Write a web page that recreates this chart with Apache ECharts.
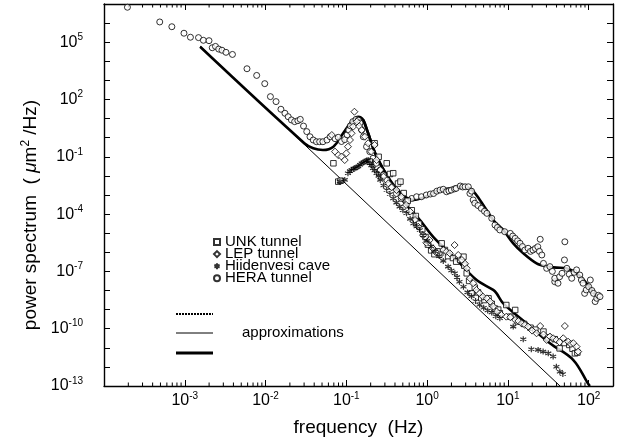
<!DOCTYPE html>
<html><head><meta charset="utf-8">
<script src="https://cdn.jsdelivr.net/npm/echarts@6/dist/echarts.min.js"></script>
<style>html,body{margin:0;padding:0;background:#fff}#c{width:620px;height:445px}</style>
</head><body><div id="c"></div>
<script>
// Values, in decades: [log10(frequency / Hz), log10(power / (µm²/Hz))]
const unkTunnel = [[-1.16,-1.34],[-1.10,-2.30],[-1.07,-2.25],[-0.71,-1.25],[-0.65,-0.29],[-0.60,-1.0],[-0.50,-1.34],[-0.46,-1.90],[-0.42,-1.86],[-0.36,-2.40],[-0.33,-2.30],[-0.29,-2.90],[-0.24,-3.30],[-0.19,-3.80],[-0.14,-4.10],[-0.10,-4.50],[-0.06,-4.80],[-0.02,-5.20],[0.01,-5.60],[0.05,-5.90],[0.09,-6.10],[0.13,-5.95],[0.18,-5.53],[0.22,-5.88],[0.26,-6.20],[0.32,-6.30],[0.36,-6.49],[0.41,-6.40],[0.45,-6.23],[0.46,-6.70],[0.49,-7.10],[0.52,-7.50],[0.55,-8.15],[0.59,-7.85],[0.63,-8.10],[0.67,-8.40],[0.71,-8.50],[0.76,-8.41],[0.80,-8.70],[0.84,-8.95],[0.88,-9.00],[0.90,-9.19],[0.98,-8.76],[1.03,-9.37],[1.09,-9.02],[1.12,-9.62],[1.20,-9.75],[1.28,-9.95],[1.34,-10.05],[1.44,-10.15],[1.50,-10.45],[1.58,-10.55],[1.64,-11.03],[1.70,-10.75],[1.76,-10.85],[1.80,-11.05],[1.83,-11.29],[1.86,-11.25]];
const lepTunnel = [[-1.18,0.14],[-1.14,-0.73],[-1.10,-0.91],[-1.06,-0.99],[-1.02,-1.17],[-1.00,-0.82],[-0.98,-0.47],[-0.955,-0.12],[-0.935,0.23],[-0.915,0.58],[-0.90,1.36],[-0.87,0.84],[-0.84,0.60],[-0.81,0.40],[-0.77,0.05],[-0.73,-0.29],[-0.69,-0.73],[-0.65,-0.38],[-0.625,-1.17],[-0.58,-1.69],[-0.54,-2.04],[-0.48,-2.39],[-0.44,-2.60],[-0.38,-2.74],[-0.32,-3.09],[-0.26,-3.52],[-0.21,-3.87],[-0.15,-4.31],[-0.11,-4.66],[-0.05,-5.10],[-0.01,-5.50],[0.03,-5.36],[0.07,-5.79],[0.11,-6.00],[0.16,-6.14],[0.20,-5.88],[0.24,-5.97],[0.28,-6.05],[0.34,-5.62],[0.385,-6.14],[0.43,-6.40],[0.47,-6.60],[0.49,-6.84],[0.53,-7.36],[0.57,-7.62],[0.61,-7.97],[0.65,-8.15],[0.69,-8.32],[0.74,-8.41],[0.78,-8.58],[0.82,-8.84],[0.86,-9.10],[0.92,-9.28],[0.98,-9.37],[1.03,-9.40],[1.09,-9.54],[1.13,-9.60],[1.17,-9.72],[1.21,-9.80],[1.25,-9.89],[1.30,-10.10],[1.355,-10.24],[1.40,-9.86],[1.44,-10.30],[1.48,-10.59],[1.52,-10.41],[1.56,-10.50],[1.60,-10.59],[1.64,-10.70],[1.685,-10.50],[1.705,-9.86],[1.745,-10.68],[1.78,-10.80],[1.81,-10.76],[1.85,-10.94],[1.87,-11.20]];
const hiidenvesiCave = [[-1.08,-2.30],[-1.02,-2.21],[-0.98,-1.86],[-0.955,-1.75],[-0.935,-1.69],[-0.91,-1.62],[-0.894,-1.60],[-0.87,-1.55],[-0.853,-1.51],[-0.83,-1.42],[-0.81,-1.34],[-0.79,-1.30],[-0.77,-1.25],[-0.75,-1.20],[-0.73,-1.17],[-0.71,-1.34],[-0.69,-1.45],[-0.67,-1.60],[-0.65,-1.72],[-0.625,-1.86],[-0.60,-2.00],[-0.58,-2.21],[-0.54,-2.50],[-0.50,-2.74],[-0.46,-2.95],[-0.42,-3.18],[-0.38,-3.40],[-0.34,-3.61],[-0.30,-3.80],[-0.255,-3.96],[-0.21,-4.25],[-0.17,-4.49],[-0.13,-4.65],[-0.09,-4.83],[-0.05,-5.10],[0.0,-5.40],[0.05,-5.70],[0.10,-5.95],[0.15,-6.20],[0.20,-6.45],[0.26,-6.75],[0.30,-6.95],[0.343,-7.10],[0.37,-7.30],[0.40,-7.54],[0.45,-7.80],[0.50,-8.10],[0.55,-8.30],[0.60,-8.55],[0.65,-8.75],[0.70,-8.90],[0.75,-9.05],[0.80,-9.15],[0.85,-9.35],[0.90,-9.45],[1.066,-9.89],[1.19,-10.55],[1.29,-11.08],[1.374,-11.11],[1.436,-11.20],[1.50,-11.29],[1.56,-11.46],[1.60,-11.99],[1.643,-12.25],[1.68,-12.37]];
const heraTunnel = [[-3.71,6.83],[-3.31,6.06],[-3.16,5.81],[-3.01,5.47],[-2.93,5.26],[-2.83,5.24],[-2.77,5.10],[-2.70,5.08],[-2.66,4.71],[-2.62,4.78],[-2.58,4.64],[-2.54,4.58],[-2.49,4.47],[-2.41,4.36],[-2.23,3.61],[-2.11,3.26],[-2.01,2.83],[-1.94,2.15],[-1.87,1.89],[-1.81,1.49],[-1.76,1.28],[-1.72,1.10],[-1.68,0.93],[-1.64,0.84],[-1.60,0.89],[-1.57,0.96],[-1.53,0.61],[-1.49,0.32],[-1.45,0.05],[-1.41,-0.12],[-1.37,-0.21],[-1.33,-0.21],[-1.29,-0.21],[-1.24,-0.12],[-1.20,0.05],[-1.14,-0.05],[-1.10,0.02],[-1.06,-0.20],[-1.02,-0.10],[-0.99,0.15],[-0.97,0.40],[-0.95,0.62],[-0.92,0.84],[-0.88,0.96],[-0.85,0.92],[-0.83,0.77],[-0.81,0.40],[-0.79,0.05],[-0.75,-0.47],[-0.71,-0.73],[-0.67,-1.08],[-0.63,-1.34],[-0.58,-1.69],[-0.54,-1.95],[-0.50,-2.21],[-0.44,-2.57],[-0.38,-2.92],[-0.32,-3.18],[-0.26,-3.35],[-0.19,-3.18],[-0.13,-3.09],[-0.07,-3.09],[-0.01,-3.00],[0.04,-2.95],[0.08,-2.92],[0.12,-2.80],[0.16,-2.74],[0.20,-2.70],[0.24,-2.83],[0.27,-2.78],[0.30,-2.74],[0.34,-2.68],[0.36,-2.65],[0.41,-2.53],[0.44,-2.58],[0.47,-2.57],[0.51,-2.57],[0.53,-2.92],[0.55,-2.80],[0.57,-3.26],[0.59,-3.43],[0.63,-3.55],[0.67,-3.70],[0.71,-3.85],[0.74,-3.96],[0.80,-4.22],[0.84,-4.57],[0.87,-4.70],[0.90,-4.83],[0.96,-4.92],[1.03,-5.01],[1.06,-5.15],[1.09,-5.27],[1.12,-5.40],[1.15,-5.53],[1.18,-5.70],[1.21,-5.88],[1.25,-5.79],[1.28,-5.95],[1.31,-5.88],[1.34,-5.80],[1.37,-5.71],[1.40,-5.32],[1.39,-5.95],[1.42,-6.14],[1.44,-6.58],[1.48,-6.84],[1.52,-6.75],[1.55,-7.00],[1.58,-7.54],[1.58,-7.36],[1.62,-7.62],[1.64,-7.28],[1.67,-7.10],[1.70,-6.40],[1.705,-5.45],[1.73,-6.84],[1.76,-7.15],[1.79,-7.36],[1.82,-7.05],[1.85,-6.92],[1.89,-7.19],[1.91,-7.45],[1.93,-7.62],[1.95,-8.15],[1.97,-7.97],[2.00,-7.80],[2.02,-7.45],[2.04,-8.00],[2.06,-8.15],[2.08,-8.58],[2.10,-8.41],[2.12,-8.25],[2.14,-8.32]];
const approxHera = [[-2.81,4.76],[-1.52,-0.29],[-1.41,-0.555],[-1.29,-0.644],[-1.16,-0.47],[-1.04,0.23],[-0.935,0.84],[-0.853,1.10],[-0.79,0.93],[-0.73,0.23],[-0.625,-0.99],[-0.46,-2.21],[-0.30,-3.0],[-0.17,-3.26],[0.0,-3.05],[0.158,-2.74],[0.30,-2.65],[0.406,-2.57],[0.53,-2.65],[0.653,-3.26],[0.818,-4.31],[0.942,-4.83],[1.066,-5.53],[1.19,-6.05],[1.355,-6.58],[1.479,-6.75],[1.60,-6.80],[1.725,-6.84],[1.85,-7.10],[1.974,-7.62],[2.097,-8.32]];
const approxLep = [[-0.79,0.93],[-0.73,0.23],[-0.625,-0.99],[-0.46,-2.25],[-0.30,-3.3],[-0.089,-4.31],[0.075,-5.19],[0.282,-6.05],[0.406,-6.58],[0.613,-7.45],[0.818,-7.97],[0.86,-8.15],[0.942,-8.67],[1.23,-9.72],[1.52,-10.76],[1.81,-11.64],[1.99,-12.86],[2.015,-13.0]];
const approxPowerLaw = [[-2.81,4.80],[1.645,-13.0]];
const xLabelExponents = [-3,-2,-1,0,1,2];
const yLabelExponents = [-13,-10,-7,-4,-1,2,5];
const minorMultipliers = [2,3,4,5,6,7,8,9];
const minorDecades = [-4,-3,-2,-1,0,1,2];
const X_MIN = 1e-4, X_MAX = 200, Y_MIN = 1e-13, Y_MAX = 1e7;

const toVal = a => a.map(p => [Math.pow(10, p[0]), Math.pow(10, p[1])]);
const minorTicks = [];
minorDecades.forEach(d => minorMultipliers.forEach(m => { const f = m * Math.pow(10, d); if (f < X_MAX) minorTicks.push([f, Y_MIN]); }));

const FONT = 'Liberation Sans, Arial, Helvetica, sans-serif';
function expLabel(list) {
  return v => {
    const l = Math.log10(v), e = Math.round(l);
    if (Math.abs(l - e) > 1e-6 || list.indexOf(e) < 0) return '';
    return '{b|10}{s|' + e + '}';
  };
}
const labelRich = {
  b: {fontSize: 16, fontFamily: FONT, color: '#000', lineHeight: 20},
  s: {fontSize: 10, fontFamily: FONT, color: '#000', verticalAlign: 'top', lineHeight: 10}
};
const base = {
  type: 'log', logBase: 10,
  axisLine: {show: true, lineStyle: {color: '#000', width: 1.4}},
  axisTick: {show: true, inside: true, length: 6, lineStyle: {color: '#000', width: 1}},
  splitLine: {show: false}, minorTick: {show: false}
};
const chart = echarts.init(document.getElementById('c'));
const asterisk = 'path://M5,0L5,10M0.67,2.5L9.33,7.5M0.67,7.5L9.33,2.5';
const markerStyle = {color: '#fff', borderColor: '#000', borderWidth: 1};
chart.setOption({
  backgroundColor: '#fff',
  animation: false,
  grid: {left: 104, right: 7, top: 4, bottom: 59},
  xAxis: [
    Object.assign({}, base, {min: X_MIN, max: X_MAX, interval: 1, splitNumber: 7, position: 'bottom',
      axisLabel: {show: true, margin: 5, formatter: expLabel(xLabelExponents), rich: labelRich},
      name: 'frequency  (Hz)', nameLocation: 'middle', nameGap: 32,
      nameTextStyle: {fontSize: 19, fontFamily: FONT, color: '#000'}}),
    Object.assign({}, base, {min: X_MIN, max: X_MAX, interval: 1, splitNumber: 7, position: 'top', axisLabel: {show: false}})
  ],
  yAxis: [
    Object.assign({}, base, {min: Y_MIN, max: Y_MAX, interval: 1, splitNumber: 20, position: 'left',
      axisLabel: {show: true, margin: 21, formatter: expLabel(yLabelExponents), rich: labelRich},
      name: '{a|power spectrum  ( }{i|μ}{a|m}{s|2}{a| /Hz)}', nameLocation: 'middle', nameGap: 58, nameRotate: 90,
      nameTextStyle: {padding: [0, 40, 0, 0], rich: {
        a: {fontSize: 19, fontFamily: FONT, color: '#000', lineHeight: 22},
        i: {fontSize: 19, fontFamily: FONT, fontStyle: 'italic', color: '#000', lineHeight: 22},
        s: {fontSize: 12, fontFamily: FONT, color: '#000', verticalAlign: 'top', lineHeight: 12}
      }}}),
    Object.assign({}, base, {min: Y_MIN, max: Y_MAX, interval: 1, splitNumber: 20, position: 'right', axisLabel: {show: false}})
  ],
  legend: {
    data: ['UNK tunnel', 'LEP tunnel', 'Hiidenvesi cave', 'HERA tunnel'],
    orient: 'vertical', left: 208, top: 229.5, itemWidth: 6, itemHeight: 6, itemGap: -2.9,
    textStyle: {fontSize: 15, fontFamily: FONT, color: '#000', padding: [0, 0, 0, 0]},
    selectedMode: false
  },
  series: [
    {type: 'custom', name: 'minor', silent: true, data: minorTicks, z: 3,
      renderItem: (params, api) => {
        const b = api.coord([api.value(0), Y_MIN]);
        const t = api.coord([api.value(0), Y_MAX]);
        return {type: 'group', children: [
          {type: 'line', shape: {x1: b[0], y1: b[1], x2: b[0], y2: b[1] - 3.5}, style: {stroke: '#000', lineWidth: 1}},
          {type: 'line', shape: {x1: t[0], y1: t[1], x2: t[0], y2: t[1] + 3.5}, style: {stroke: '#000', lineWidth: 1}}
        ]};
      }},
    {type: 'line', name: 'approx power law', data: toVal(approxPowerLaw), showSymbol: false, lineStyle: {color: '#000', width: 1}, z: 2},
    {type: 'line', name: 'approx HERA', data: toVal(approxHera), showSymbol: false, smooth: 0.35, lineStyle: {color: '#000', width: 2.6}, z: 2},
    {type: 'line', name: 'approx LEP', data: toVal(approxLep), showSymbol: false, smooth: 0.35, lineStyle: {color: '#000', width: 2.6}, z: 2},
    {type: 'scatter', name: 'HERA tunnel', data: toVal(heraTunnel), symbol: 'circle', symbolSize: 6, itemStyle: markerStyle, z: 4},
    {type: 'scatter', name: 'UNK tunnel', data: toVal(unkTunnel), symbol: 'rect', symbolSize: 5.5, itemStyle: markerStyle, z: 4},
    {type: 'scatter', name: 'LEP tunnel', data: toVal(lepTunnel), symbol: 'diamond', symbolSize: 7, itemStyle: markerStyle, z: 4},
    {type: 'scatter', name: 'Hiidenvesi cave', data: toVal(hiidenvesiCave), symbol: asterisk, symbolSize: 6, itemStyle: {color: 'transparent', borderColor: '#000', borderWidth: 1.2}, z: 4}
  ],
  graphic: [
    {type: 'line', shape: {x1: 176, y1: 314, x2: 213, y2: 314}, style: {stroke: '#000', lineWidth: 2, lineDash: [2, 1]}},
    {type: 'line', shape: {x1: 176, y1: 333, x2: 213, y2: 333}, style: {stroke: '#000', lineWidth: 1}},
    {type: 'line', shape: {x1: 176, y1: 353, x2: 213, y2: 353}, style: {stroke: '#000', lineWidth: 3}},
    {type: 'text', x: 242, y: 333, style: {text: 'approximations', fontSize: 15, fontFamily: FONT, fill: '#000', verticalAlign: 'middle'}}
  ]
});
</script></body></html>
